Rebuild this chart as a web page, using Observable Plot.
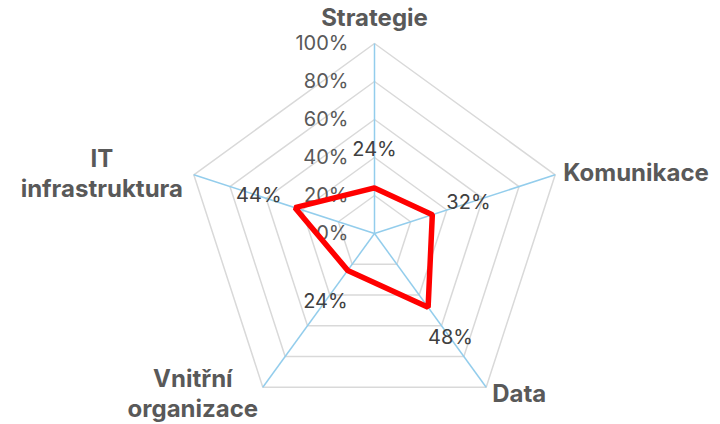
<!DOCTYPE html>
<html>
<head>
<meta charset="utf-8">
<script src="https://cdn.jsdelivr.net/npm/d3@7"></script>
<script src="https://cdn.jsdelivr.net/npm/@observablehq/plot@0.6"></script>
<style>
  html, body { margin: 0; padding: 0; background: #fff; }
  #chart svg { display: block; }
</style>
</head>
<body>
<div id="chart"></div>
<script>
const categories = ["Strategie", "Komunikace", "Data", "Vnitřní\norganizace", "IT\ninfrastruktura"];
const values = [0.24, 0.32, 0.48, 0.24, 0.44];
const gridLevels = [0, 0.2, 0.4, 0.6, 0.8, 1.0];
const tickLabels = ["0%", "20%", "40%", "60%", "80%", "100%"];
const valueLabels = ["24%", "32%", "48%", "24%", "44%"];

const n = categories.length;
const ang = i => Math.PI / 2 - i * 2 * Math.PI / n;
const px = (i, r) => r * Math.cos(ang(i));
const py = (i, r) => r * Math.sin(ang(i));

const ringData = [];
gridLevels.filter(l => l > 0).forEach(l => {
  for (let i = 0; i < n; i++) ringData.push({level: l, x: px(i, l), y: py(i, l)});
});
const spokes = categories.map((c, i) => ({x1: 0, y1: 0, x2: px(i, 1), y2: py(i, 1)}));
const pts = values.map((v, i) => ({x: px(i, v), y: py(i, v)}));
const labelOffset = 0.2;
const valLabelPts = values.map((v, i) => ({x: px(i, v + labelOffset), y: py(i, v + labelOffset), label: valueLabels[i]}));
const tickPts = gridLevels.map((l, i) => ({x: 0, y: l, label: tickLabels[i]}));

const FONT = "Inter, 'Open Sans', sans-serif";
const catStyle = [
  {textAnchor: "middle", dx: 0, dy: -27},
  {textAnchor: "start", dx: 8, dy: -3},
  {textAnchor: "start", dx: 6, dy: 5},
  {textAnchor: "middle", dx: -70, dy: 5},
  {textAnchor: "middle", dx: -92, dy: -2}
];
const catMarks = categories.map((c, i) => Plot.text([{x: px(i, 1), y: py(i, 1), label: c}], {
  x: "x", y: "y", text: "label",
  textAnchor: catStyle[i].textAnchor, dx: catStyle[i].dx, dy: catStyle[i].dy,
  lineAnchor: "middle", lineHeight: 1.25,
  fontSize: 24, fontWeight: "bold", fill: "#595959", fontFamily: FONT
}));

const chart = Plot.plot({
  width: 720,
  height: 424,
  margin: 0,
  x: {domain: [-1, 1], range: [184, 564], axis: null},
  y: {domain: [-1, 1], range: [423, 43], axis: null},
  style: {fontFamily: FONT, background: "#fff"},
  marks: [
    Plot.line(ringData, {x: "x", y: "y", z: "level", curve: "linear-closed", stroke: "#d9d9d9", strokeWidth: 1.5}),
    Plot.link(spokes, {x1: "x1", y1: "y1", x2: "x2", y2: "y2", stroke: "#93cdec", strokeWidth: 1.5}),
    Plot.text(tickPts, {x: "x", y: "y", text: "label", textAnchor: "end", dx: -26, fontSize: 20, fill: "#595959", fontFamily: FONT}),
    Plot.line(pts, {x: "x", y: "y", curve: "linear-closed", stroke: "#ff0000", strokeWidth: 5.5, strokeLinejoin: "miter"}),
    Plot.text(valLabelPts, {x: "x", y: "y", text: "label", fontSize: 20, fill: "#404040", fontFamily: FONT}),
    ...catMarks
  ]
});
document.getElementById("chart").appendChild(chart);
</script>
</body>
</html>
